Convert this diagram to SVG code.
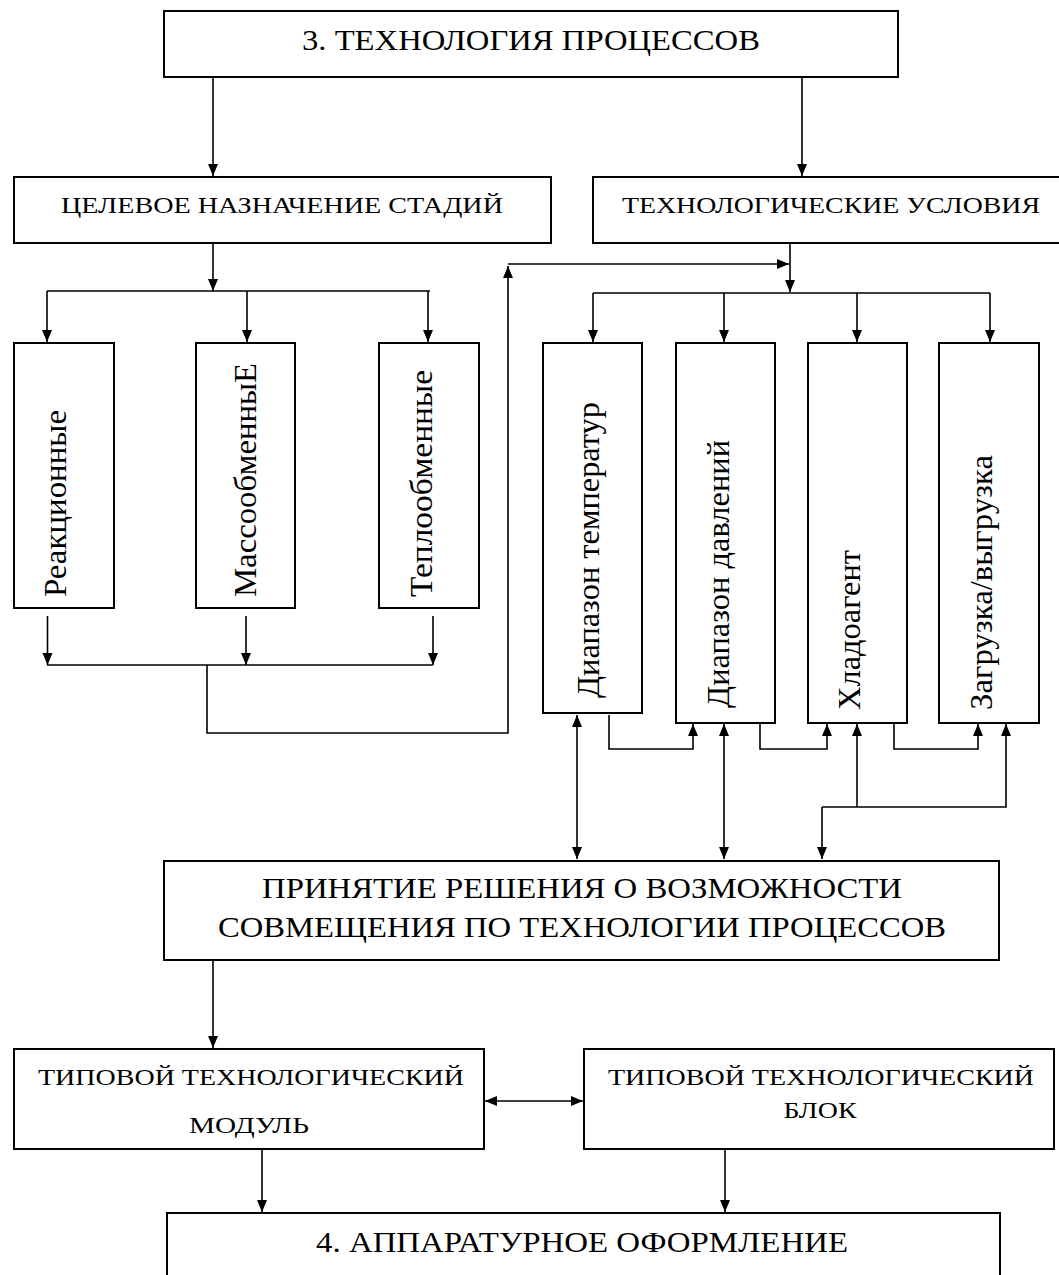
<svg xmlns="http://www.w3.org/2000/svg" width="1059" height="1275" viewBox="0 0 1059 1275">
<style>
.box{fill:#fff;stroke:#000;stroke-width:2}
.t{font-family:"Liberation Serif","Times New Roman",serif;fill:#000}
.h{font-size:29px;text-anchor:middle}
.m{font-size:24px;text-anchor:middle}
.v{font-size:32px;text-anchor:start}
.c{fill:none;stroke:#000;stroke-width:1.6}
</style>
<defs>
<marker id="ah" markerUnits="userSpaceOnUse" markerWidth="13" markerHeight="11" refX="12" refY="5" orient="auto-start-reverse" viewBox="0 0 13 11">
<path d="M0,0 L12,5 L0,10 z" fill="#000"/>
</marker>
</defs>
<rect width="1059" height="1275" fill="#fff"/>

<g id="n-top"><rect class="box" x="164" y="11" width="734" height="66"/>
<text class="t h" x="531" y="50" textLength="458" lengthAdjust="spacingAndGlyphs">3. ТЕХНОЛОГИЯ ПРОЦЕССОВ</text></g>

<g id="n-stages"><rect class="box" x="14" y="177" width="537" height="66"/>
<text class="t m" x="282" y="213" textLength="442" lengthAdjust="spacingAndGlyphs">ЦЕЛЕВОЕ НАЗНАЧЕНИЕ СТАДИЙ</text></g>

<g id="n-conditions"><rect class="box" x="593" y="177" width="480" height="66"/>
<text class="t m" x="831" y="213" textLength="418" lengthAdjust="spacingAndGlyphs">ТЕХНОЛОГИЧЕСКИЕ УСЛОВИЯ</text></g>

<g id="n-react"><rect class="box" x="14" y="343" width="100" height="265"/>
<text class="t v" transform="translate(66,597) rotate(-90)" textLength="187" lengthAdjust="spacingAndGlyphs">Реакционные</text></g>
<g id="n-mass"><rect class="box" x="196" y="343" width="99" height="265"/>
<text class="t v" transform="translate(256,597) rotate(-90)" textLength="234" lengthAdjust="spacingAndGlyphs">МассообменныЕ</text></g>
<g id="n-heat"><rect class="box" x="379" y="343" width="100" height="265"/>
<text class="t v" transform="translate(432,597) rotate(-90)" textLength="227" lengthAdjust="spacingAndGlyphs">Теплообменные</text></g>

<g id="n-temp"><rect class="box" x="543" y="343" width="99" height="370"/>
<text class="t v" transform="translate(599,698) rotate(-90)" textLength="296" lengthAdjust="spacingAndGlyphs">Диапазон температур</text></g>
<g id="n-press"><rect class="box" x="676" y="343" width="99" height="380"/>
<text class="t v" transform="translate(729,708) rotate(-90)" textLength="268" lengthAdjust="spacingAndGlyphs">Диапазон давлений</text></g>
<g id="n-cool"><rect class="box" x="808" y="343" width="99" height="380"/>
<text class="t v" transform="translate(860,710) rotate(-90)" textLength="160" lengthAdjust="spacingAndGlyphs">Хладоагент</text></g>
<g id="n-load"><rect class="box" x="939" y="343" width="100" height="380"/>
<text class="t v" transform="translate(992,710) rotate(-90)" textLength="255" lengthAdjust="spacingAndGlyphs">Загрузка/выгрузка</text></g>

<g id="n-decision"><rect class="box" x="164" y="861" width="835" height="99"/>
<text class="t h" font-size="28" x="582" y="898" textLength="640" lengthAdjust="spacingAndGlyphs">ПРИНЯТИЕ РЕШЕНИЯ О ВОЗМОЖНОСТИ</text>
<text class="t h" font-size="28" x="582" y="937" textLength="728" lengthAdjust="spacingAndGlyphs">СОВМЕЩЕНИЯ ПО ТЕХНОЛОГИИ ПРОЦЕССОВ</text></g>

<g id="n-module"><rect class="box" x="14" y="1049" width="470" height="100"/>
<text class="t m" x="251" y="1085" textLength="426" lengthAdjust="spacingAndGlyphs">ТИПОВОЙ ТЕХНОЛОГИЧЕСКИЙ</text>
<text class="t m" x="249" y="1133" textLength="120" lengthAdjust="spacingAndGlyphs">МОДУЛЬ</text></g>

<g id="n-block"><rect class="box" x="584" y="1049" width="470" height="100"/>
<text class="t m" x="821" y="1085" textLength="426" lengthAdjust="spacingAndGlyphs">ТИПОВОЙ ТЕХНОЛОГИЧЕСКИЙ</text>
<text class="t m" x="820" y="1118" textLength="73" lengthAdjust="spacingAndGlyphs">БЛОК</text></g>

<g id="n-apparatus"><rect class="box" x="167" y="1213" width="833" height="80"/>
<text class="t h" x="582" y="1252" textLength="532" lengthAdjust="spacingAndGlyphs">4. АППАРАТУРНОЕ ОФОРМЛЕНИЕ</text></g>

<g id="connectors">
<path class="c" d="M213,77 V176" marker-end="url(#ah)"/>
<path class="c" d="M802,77 V176" marker-end="url(#ah)"/>
<path class="c" d="M213,243 V291" marker-end="url(#ah)"/>
<path class="c" d="M47,291 H430"/>
<path class="c" d="M47,291 V342" marker-end="url(#ah)"/>
<path class="c" d="M247,291 V342" marker-end="url(#ah)"/>
<path class="c" d="M428,291 V342" marker-end="url(#ah)"/>
<path class="c" d="M47.5,616 V665" marker-end="url(#ah)"/>
<path class="c" d="M246,616 V665" marker-end="url(#ah)"/>
<path class="c" d="M433,616 V665" marker-end="url(#ah)"/>
<path class="c" d="M47,665 H433"/>
<path class="c" d="M207,665 V733 H508 V266" marker-end="url(#ah)"/>
<path class="c" d="M508,264 H789" marker-end="url(#ah)"/>
<path class="c" d="M790,243 V292" marker-end="url(#ah)"/>
<path class="c" d="M593,293 H990"/>
<path class="c" d="M593,293 V342" marker-end="url(#ah)"/>
<path class="c" d="M724,293 V342" marker-end="url(#ah)"/>
<path class="c" d="M857,293 V342" marker-end="url(#ah)"/>
<path class="c" d="M990,293 V342" marker-end="url(#ah)"/>
<path class="c" d="M577,715 V859" marker-start="url(#ah)" marker-end="url(#ah)"/>
<path class="c" d="M609,715 V749 H693 V724" marker-end="url(#ah)"/>
<path class="c" d="M724,724 V859" marker-start="url(#ah)" marker-end="url(#ah)"/>
<path class="c" d="M760,724 V749 H827 V724" marker-end="url(#ah)"/>
<path class="c" d="M894,724 V749 H978 V724" marker-end="url(#ah)"/>
<path class="c" d="M822,807 H1006 V724" marker-end="url(#ah)"/>
<path class="c" d="M857,807 V724" marker-end="url(#ah)"/>
<path class="c" d="M822,807 V859" marker-end="url(#ah)"/>
<path class="c" d="M213,960 V1048" marker-end="url(#ah)"/>
<path class="c" d="M485,1101 H583" marker-start="url(#ah)" marker-end="url(#ah)"/>
<path class="c" d="M262,1149 V1212" marker-end="url(#ah)"/>
<path class="c" d="M725,1149 V1212" marker-end="url(#ah)"/>
</g>
</svg>
